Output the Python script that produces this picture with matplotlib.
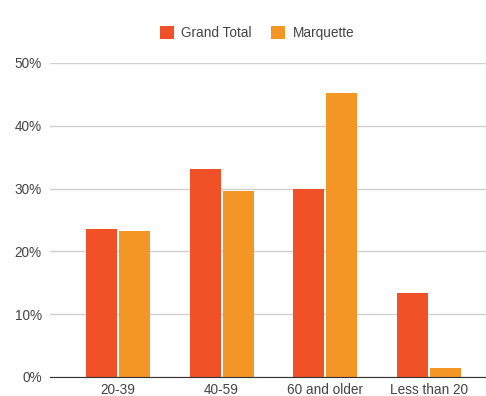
import matplotlib.pyplot as plt
import numpy as np
from matplotlib.ticker import PercentFormatter

categories = ['20-39', '40-59', '60 and older', 'Less than 20']
grand_total = [23.6, 33.2, 29.9, 13.3]
marquette = [23.3, 29.6, 45.3, 1.5]

plt.rcParams['font.family'] = ['Liberation Sans', 'DejaVu Sans']

fig = plt.figure(figsize=(4.86, 3.96), dpi=100)
ax = fig.add_axes([50 / 486, 19 / 396, 436 / 486, 314 / 396])

x = np.arange(len(categories))
w = 0.30
ax.bar(x - w / 2 - 0.01, grand_total, w, color='#f05127', label='Grand Total', zorder=3)
ax.bar(x + w / 2 + 0.01, marquette, w, color='#f39625', label='Marquette', zorder=3)

ax.set_xlim(-0.656, 3.55)
ax.set_ylim(0, 50)
ax.set_yticks(range(0, 51, 10))
ax.yaxis.set_major_formatter(PercentFormatter(decimals=0))
ax.set_xticks(x)
ax.set_xticklabels(categories)
ax.tick_params(length=0, labelsize=9.8, colors='#444444', pad=6)
ax.tick_params(axis='x', pad=4)
ax.grid(axis='y', color='#d0d0d0', linewidth=1, zorder=0)
for s in ['top', 'right', 'left']:
    ax.spines[s].set_visible(False)
ax.spines['bottom'].set_color('#333333')
ax.spines['bottom'].set_zorder(4)

fig.legend(loc='center', bbox_to_anchor=(257 / 486, 1 - 33 / 396), ncol=2, frameon=False,
           fontsize=9.8, handlelength=1.05, handleheight=1.05, columnspacing=1.4,
           handletextpad=0.55, labelcolor='#444444')

fig.savefig('out.png', dpi=100)
